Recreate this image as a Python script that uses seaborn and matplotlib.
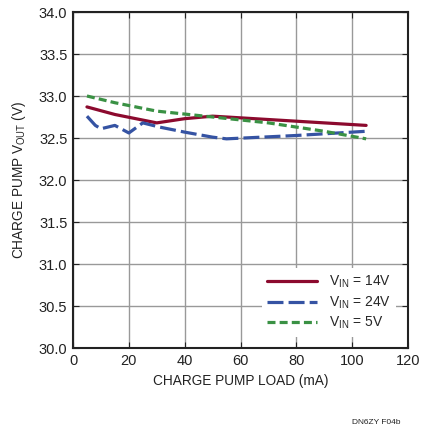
import matplotlib
matplotlib.use("Agg")
import matplotlib.pyplot as plt
import seaborn as sns
import pandas as pd

# Data
x_14 = [5, 15, 30, 40, 50, 70, 90, 105]
y_14 = [32.87, 32.78, 32.68, 32.73, 32.76, 32.72, 32.68, 32.65]
x_24 = [5, 8, 10, 15, 20, 25, 31, 40, 50, 55, 80, 105]
y_24 = [32.76, 32.65, 32.61, 32.65, 32.56, 32.68, 32.63, 32.57, 32.51, 32.49, 32.53, 32.58]
x_5 = [5, 15, 30, 50, 70, 90, 105]
y_5 = [33.0, 32.92, 32.82, 32.75, 32.68, 32.58, 32.49]
labels = ["$\\mathregular{V_{IN}}$ = 14V", "$\\mathregular{V_{IN}}$ = 24V", "$\\mathregular{V_{IN}}$ = 5V"]
x_ticks = [0, 20, 40, 60, 80, 100, 120]
y_ticks = [30.0, 30.5, 31.0, 31.5, 32.0, 32.5, 33.0, 33.5, 34.0]

df = pd.concat([
    pd.DataFrame({"load": x_14, "vout": y_14, "series": labels[0]}),
    pd.DataFrame({"load": x_24, "vout": y_24, "series": labels[1]}),
    pd.DataFrame({"load": x_5, "vout": y_5, "series": labels[2]}),
], ignore_index=True)

sns.set_style("white")
fam = "Liberation Sans"
plt.rcParams["font.family"] = [fam, "DejaVu Sans"]
plt.rcParams["mathtext.fontset"] = "custom"
plt.rcParams["mathtext.rm"] = fam

fig = plt.figure(figsize=(4.21, 4.30), dpi=100)
ax = fig.add_axes([73/421, 1-348/430, (408-73)/421, (348-12)/430])

palette = {labels[0]: "#8c0a2e", labels[1]: "#3553a3", labels[2]: "#3a9144"}
dashes = {labels[0]: "", labels[1]: (5, 1.6), labels[2]: (2.5, 1.3)}
sns.lineplot(data=df, x="load", y="vout", hue="series", style="series",
             palette=palette, dashes=dashes, linewidth=2.3, ax=ax, sort=False,
             estimator=None)

ax.set_xlim(0, 120)
ax.set_ylim(30, 34)
ax.set_xticks(x_ticks)
ax.set_yticks(y_ticks)
ax.set_xticklabels([str(t) for t in x_ticks])
ax.set_yticklabels([f"{t:.1f}" for t in y_ticks])
ax.grid(True, color="#999999", linewidth=1.0)
ax.set_axisbelow(True)
for s in ax.spines.values():
    s.set_color("#222222")
    s.set_linewidth(1.5)
ax.tick_params(axis="both", labelsize=10.5, colors="#222222", direction="in", length=4,
               left=True, bottom=True, right=True, top=True, labelcolor="#222222", pad=4)
ax.set_xlabel("CHARGE PUMP LOAD (mA)", fontsize=9.8, color="#222222", labelpad=5)
ax.set_ylabel("CHARGE PUMP $\\mathregular{V_{OUT}}$ (V)", fontsize=9.8, color="#222222", labelpad=8)

leg = ax.legend(loc="lower right", frameon=True, fontsize=10, handlelength=3.6,
                handletextpad=0.8, labelspacing=0.3, borderaxespad=0.5,
                borderpad=0.4, bbox_to_anchor=(0.985, 0.012), fancybox=False)
leg.get_frame().set_facecolor("white")
leg.get_frame().set_edgecolor("none")
leg.get_frame().set_alpha(1.0)
for l in leg.get_lines():
    l.set_linewidth(2.3)

fig.text(400/421, 1-422/430, "DN6ZY F04b", fontsize=6, ha="right", va="center", color="#222222")

fig.savefig("out.png", dpi=100)
